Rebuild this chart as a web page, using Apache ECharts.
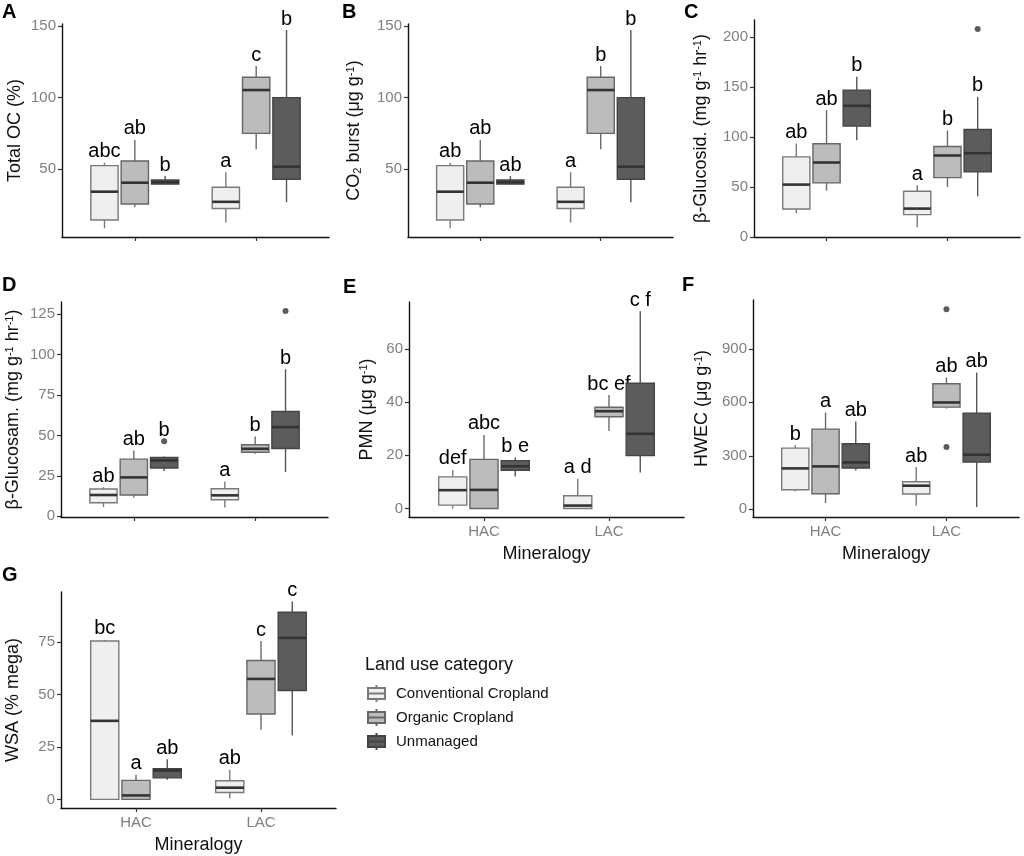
<!DOCTYPE html>
<html><head><meta charset="utf-8">
<script src="https://cdn.jsdelivr.net/npm/echarts@6/dist/echarts.min.js"></script>
<style>html,body{margin:0;padding:0;background:#fff}#c{width:1024px;height:856px}</style>
</head><body><div id="c"></div>
<script>
// ---------- DATA ----------
const categories = ['HAC', 'LAC'];
const landUse = ['Conventional Cropland', 'Organic Cropland', 'Unmanaged'];
// each box: [min, q1, median, q3, max], one per category (HAC, LAC)
// A: Total OC (%)
const totalOC_conv = [[8.5, 14.3, 34.1, 52.3, 54.4], [12.5, 22.3, 27.0, 37.2, 47.7]];
const totalOC_org  = [[23.2, 25.5, 40.4, 55.6, 70.3], [63.8, 74.9, 105.2, 114.1, 122.0]];
const totalOC_unm  = [[39.3, 39.4, 40.7, 42.3, 45.0], [26.7, 42.8, 51.6, 99.9, 147.2]];
const totalOC_out  = [[], [], []];
const totalOC_letters = [['abc', 'a'], ['ab', 'c'], ['b', 'b']];
// B: CO2 burst
const co2_conv = [[8.5, 14.3, 34.1, 52.3, 54.4], [12.5, 22.3, 27.0, 37.2, 47.7]];
const co2_org  = [[23.2, 25.5, 40.4, 55.6, 70.3], [63.8, 74.9, 105.2, 114.1, 122.0]];
const co2_unm  = [[39.3, 39.4, 40.7, 42.3, 45.0], [26.7, 42.8, 51.6, 99.9, 147.2]];
const co2_out  = [[], [], []];
const co2_letters = [['ab', 'a'], ['ab', 'b'], ['ab', 'b']];
// C: beta-Glucosidase
const glucosid_conv = [[24.0, 28.0, 52.4, 80.1, 93.5], [9.7, 22.4, 28.4, 45.7, 51.8]];
const glucosid_org  = [[46.4, 54.1, 74.5, 93.2, 126.9], [50.1, 59.4, 81.5, 90.5, 106.5]];
const glucosid_unm  = [[96.8, 110.9, 131.2, 146.9, 160.3], [40.7, 65.1, 83.8, 107.5, 140.2]];
const glucosid_out  = [[], [], [[1, 208]]];
const glucosid_letters = [['ab', 'a'], ['ab', 'b'], ['b', 'b']];
// D: beta-Glucosaminidase
const glucosam_conv = [[5.8, 8.4, 13.2, 16.9, 18.1], [5.4, 10.3, 13.0, 17.1, 21.6]];
const glucosam_org  = [[11.5, 13.2, 24.1, 35.4, 40.8], [38.7, 39.7, 41.8, 44.3, 49.4]];
const glucosam_unm  = [[28.0, 29.9, 34.6, 36.4, 37.0], [27.4, 42.0, 55.2, 64.9, 91.0]];
const glucosam_out  = [[], [], [[0, 46.5], [1, 127.1]]];
const glucosam_letters = [['ab', 'a'], ['ab', 'b'], ['b', 'b']];
// E: PMN
const pmn_conv = [[0, 1.25, 6.9, 11.9, 14.5], [0, 0, 1.1, 4.8, 11.2]];
const pmn_org  = [[0, 0, 7.0, 18.5, 27.7], [29.2, 34.5, 36.6, 38.1, 42.7]];
const pmn_unm  = [[12.0, 14.4, 15.9, 18.0, 19.2], [13.5, 19.9, 28.1, 47.1, 74.2]];
const pmn_out  = [[], [], []];
const pmn_letters = [['def', 'a d'], ['abc', 'bc ef'], ['b e', 'c f']];
// F: HWEC
const hwec_conv = [[101, 110, 229.6, 343.5, 360], [20.5, 85.9, 132.6, 155, 237]];
const hwec_org  = [[35.5, 87.7, 240.8, 450, 543], [565, 573, 599.3, 703.9, 739.3]];
const hwec_unm  = [[218.4, 231.5, 263.2, 367.8, 492.9], [13, 265, 306.2, 539.6, 767]];
const hwec_out  = [[], [[1, 1122], [1, 349]], []];
const hwec_letters = [['b', 'ab'], ['a', 'ab'], ['ab', 'ab']];
// G: WSA
const wsa_conv = [[0, 0, 37.5, 75.6, 76.1], [0.5, 3.3, 5.6, 8.9, 14.1]];
const wsa_org  = [[0, 0, 1.9, 9.1, 11.8], [33.2, 40.8, 57.5, 66.3, 75.6]];
const wsa_unm  = [[9.4, 10.3, 13.8, 14.6, 19.2], [30.5, 52.0, 77.1, 89.3, 94.5]];
const wsa_out  = [[], [], []];
const wsa_letters = [['bc', 'ab'], ['a', 'c'], ['ab', 'c']];

// y tick labels per panel
const ticksA = [50, 100, 150];
const ticksB = [50, 100, 150];
const ticksC = [0, 50, 100, 150, 200];
const ticksD = [0, 25, 50, 75, 100, 125];
const ticksE = [0, 20, 40, 60];
const ticksF = [0, 300, 600, 900];
const ticksG = [0, 25, 50, 75];

// ---------- LAYOUT / STYLE ----------
const FONT = '"Liberation Sans", Arial, Helvetica, sans-serif';
const fills = ['#efefef', '#bcbcbc', '#5c5c5c'];
const borders = ['#7a7a7a', '#666666', '#444444'];
const whiskerCol = ['#7a7a7a', '#6a6a6a', '#555555'];
const offsets = [-0.25, 0, 0.25];

const panels = [
  {letter: 'A', yname: 'Total OC (%)', boxes: [totalOC_conv, totalOC_org, totalOC_unm], out: totalOC_out, letters: totalOC_letters, ticks: ticksA,
   left: 62, top: 24, width: 267, height: 213, min: 2.4, max: 151.4, gap: 38, lx: 2, ly: 2, showX: false},
  {letter: 'B', yname: 'CO{sub|2} burst (μg g{sup|-1})', boxes: [co2_conv, co2_org, co2_unm], out: co2_out, letters: co2_letters, ticks: ticksB,
   left: 408, top: 24, width: 265, height: 213, min: 2.4, max: 151.4, gap: 45, lx: 342, ly: 2, showX: false},
  {letter: 'C', yname: 'β-Glucosid. (mg g{sup|-1} hr{sup|-1})', boxes: [glucosid_conv, glucosid_org, glucosid_unm], out: glucosid_out, letters: glucosid_letters, ticks: ticksC,
   left: 754, top: 20, width: 266, height: 217, min: 0, max: 217, gap: 44, lx: 684, ly: 2, showX: false},
  {letter: 'D', yname: 'β-Glucosam. (mg g{sup|-1} hr{sup|-1})', boxes: [glucosam_conv, glucosam_org, glucosam_unm], out: glucosam_out, letters: glucosam_letters, ticks: ticksD,
   left: 61, top: 302, width: 267, height: 215, min: -0.4, max: 132.6, gap: 38.5, lx: 2, ly: 275, showX: false},
  {letter: 'E', yname: 'PMN (μg g{sup|-1})', boxes: [pmn_conv, pmn_org, pmn_unm], out: pmn_out, letters: pmn_letters, ticks: ticksE,
   left: 409, top: 302, width: 275, height: 215, min: -3.2, max: 77.7, gap: 32.5, lx: 343, ly: 277, showX: true},
  {letter: 'F', yname: 'HWEC (μg g{sup|-1})', boxes: [hwec_conv, hwec_org, hwec_unm], out: hwec_out, letters: hwec_letters, ticks: ticksF,
   left: 753, top: 300, width: 266, height: 217, min: -43, max: 1174, gap: 41.5, lx: 682, ly: 275, showX: true},
  {letter: 'G', yname: 'WSA (% mega)', boxes: [wsa_conv, wsa_org, wsa_unm], out: wsa_out, letters: wsa_letters, ticks: ticksG,
   left: 61, top: 592, width: 275, height: 216, min: -4.1, max: 99.0, gap: 38.5, lx: 2, ly: 565, showX: true}
];

const grids = [], xAxes = [], yAxes = [], series = [];
const titles = [];

function makeRender(s, letters, outliers, span) {
  return function (params, api) {
    const x = api.value(0);
    const mn = api.value(1), q1 = api.value(2), md = api.value(3), q3 = api.value(4), mx = api.value(5);
    const w = api.size([0.225, 0])[0];
    const pMin = api.coord([x, mn]), pQ1 = api.coord([x, q1]), pMd = api.coord([x, md]);
    const pQ3 = api.coord([x, q3]), pMx = api.coord([x, mx]);
    const cx = pMin[0];
    const ci = params.dataIndex;
    let anchor = mx;
    outliers.forEach(o => { if (o[0] === ci && o[1] > anchor && o[1] - mx < 0.1 * span) anchor = o[1]; });
    const pA = api.coord([x, anchor]);
    return {
      type: 'group',
      children: [
        {type: 'line', shape: {x1: cx, y1: pMx[1], x2: cx, y2: pQ3[1]}, style: {stroke: whiskerCol[s], lineWidth: 1.4}},
        {type: 'line', shape: {x1: cx, y1: pQ1[1], x2: cx, y2: pMin[1]}, style: {stroke: whiskerCol[s], lineWidth: 1.4}},
        {type: 'rect', shape: {x: cx - w / 2, y: pQ3[1], width: w, height: Math.max(pQ1[1] - pQ3[1], 1)},
         style: {fill: fills[s], stroke: borders[s], lineWidth: 1.4}},
        {type: 'line', shape: {x1: cx - w / 2, y1: pMd[1], x2: cx + w / 2, y2: pMd[1]}, style: {stroke: '#333333', lineWidth: 2.6}},
        {type: 'text', style: {text: letters[ci], x: cx, y: pA[1] - 1, align: 'center', verticalAlign: 'bottom',
          font: '20px ' + FONT, fill: '#000000'}}
      ]
    };
  };
}

panels.forEach((p, i) => {
  grids.push({left: p.left, top: p.top, width: p.width, height: p.height, containLabel: false});
  xAxes.push({
    gridIndex: i, type: 'value', min: 0.4, max: 2.6,
    axisLine: {show: true, onZero: false, lineStyle: {color: '#111', width: 1.4}},
    axisTick: {show: true, customValues: [1, 2], length: 4, lineStyle: {color: '#333', width: 1.2}},
    axisLabel: {show: p.showX, customValues: [1, 2], formatter: v => categories[Math.round(v) - 1],
      color: '#7f7f7f', fontSize: 15, fontFamily: FONT, margin: 7},
    splitLine: {show: false},
    name: p.showX ? 'Mineralogy' : '', nameLocation: 'middle', nameGap: 28,
    nameTextStyle: {fontSize: 18, color: '#111', fontFamily: FONT}
  });
  yAxes.push({
    gridIndex: i, type: 'value', min: p.min, max: p.max,
    axisLine: {show: true, onZero: false, lineStyle: {color: '#111', width: 1.4}},
    axisTick: {show: true, customValues: p.ticks, length: 4, lineStyle: {color: '#333', width: 1.2}},
    axisLabel: {customValues: p.ticks, color: '#7f7f7f', fontSize: 15, fontFamily: FONT, margin: 6},
    splitLine: {show: false},
    name: p.yname, nameLocation: 'middle', nameGap: p.gap,
    nameTextStyle: {fontSize: 18, color: '#111', fontFamily: FONT,
      rich: {sup: {fontSize: 11, verticalAlign: 'top', lineHeight: 11, fontFamily: FONT, color: '#111'},
             sub: {fontSize: 11, verticalAlign: 'bottom', lineHeight: 11, fontFamily: FONT, color: '#111'}}}
  });
  titles.push({text: p.letter, left: p.lx, top: p.ly, padding: 0,
    textStyle: {fontSize: 20, fontWeight: 'bold', color: '#000', fontFamily: FONT}});
  const span = p.max - p.min;
  p.boxes.forEach((arr, s) => {
    series.push({
      type: 'custom', name: landUse[s], xAxisIndex: i, yAxisIndex: i,
      itemStyle: {color: fills[s], borderColor: borders[s], borderWidth: 1.2},
      data: arr.map((b, ci) => [ci + 1 + offsets[s], b[0], b[1], b[2], b[3], b[4]]),
      encode: {x: 0, y: [1, 2, 3, 4, 5]},
      renderItem: makeRender(s, p.letters[s], p.out[s], span),
      silent: true
    });
    if (p.out[s].length) {
      series.push({
        type: 'scatter', name: 'outlier', xAxisIndex: i, yAxisIndex: i,
        data: p.out[s].map(o => [o[0] + 1 + offsets[s], o[1]]),
        symbolSize: 6, itemStyle: {color: '#333333'}, silent: true
      });
    }
  });
});

titles.push({text: 'Land use category', left: 365, top: 656, padding: 0,
  textStyle: {fontSize: 18, fontWeight: 'normal', color: '#111', fontFamily: FONT}});

const chart = echarts.init(document.getElementById('c'), null, {renderer: 'canvas'});
chart.setOption({
  animation: false,
  backgroundColor: '#ffffff',
  title: titles,
  grid: grids,
  xAxis: xAxes,
  yAxis: yAxes,
  legend: {
    data: landUse, orient: 'vertical', left: 367, top: 684, padding: 0,
    itemWidth: 17, itemHeight: 17, itemGap: 5, selectedMode: false,
    icon: 'path://M8.5,0V3M0,3H17V14H0ZM0,8.5H17M8.5,14V17',
    textStyle: {fontSize: 15, color: '#111', fontFamily: FONT, padding: [0, 0, 0, 6]}
  },
  series: series
});
</script>
</body></html>
